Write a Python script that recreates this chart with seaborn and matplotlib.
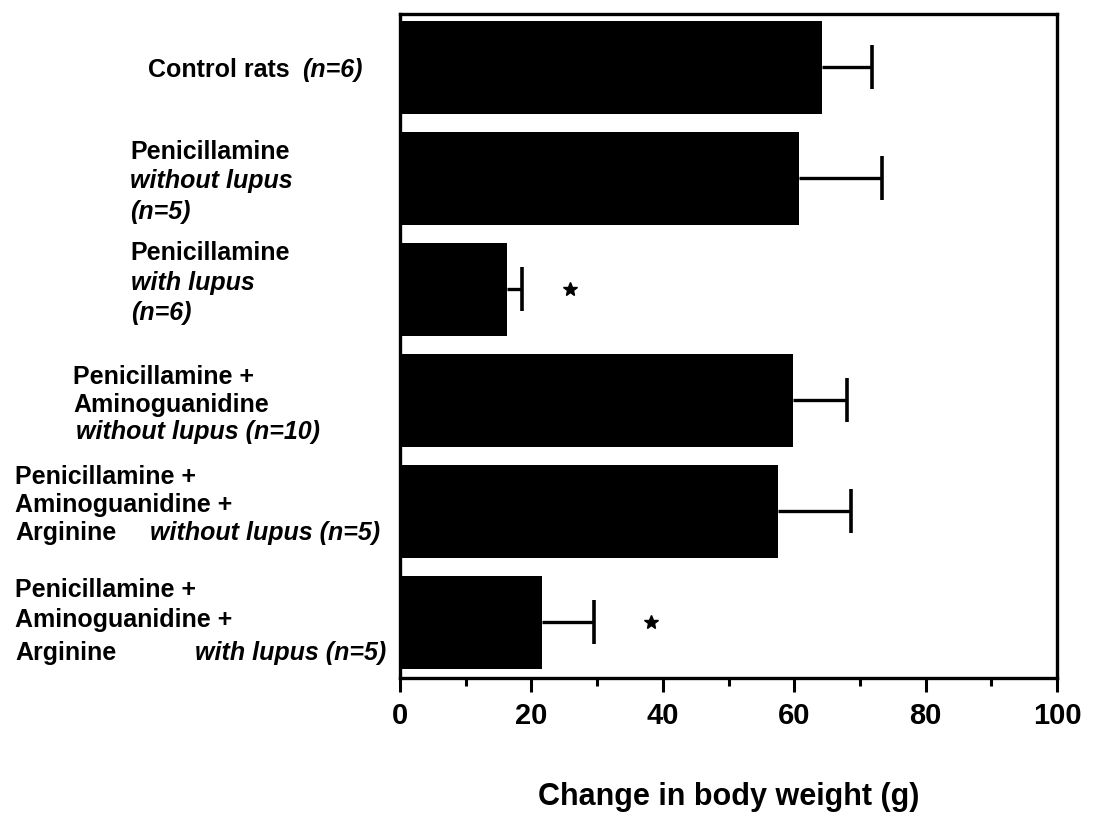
import matplotlib
matplotlib.use("Agg")
import matplotlib.pyplot as plt
from matplotlib.ticker import MultipleLocator
import seaborn as sns
import numpy as np
import pandas as pd

# ---------------- data ----------------
groups = ["Control", "Pen w/o lupus", "Pen with lupus",
          "Pen+AG w/o lupus", "Pen+AG+Arg w/o lupus", "Pen+AG+Arg with lupus"]
weight_change = [64.3, 60.7, 16.3, 59.8, 57.6, 21.6]
sem = [7.6, 12.7, 2.3, 8.3, 11.0, 7.9]
star_groups = ["Pen with lupus", "Pen+AG+Arg with lupus"]
star_x = [25.9, 38.2]
x_ticks = [0, 20, 40, 60, 80, 100]
x_label = "Change in body weight (g)"

# label text pieces: (text, italic)
label_pieces = [
    [("Control rats", False), ("(n=6)", True)],
    [("Penicillamine", False), ("without lupus", True), ("(n=5)", True)],
    [("Penicillamine", False), ("with lupus", True), ("(n=6)", True)],
    [("Penicillamine +", False), ("Aminoguanidine", False), ("without lupus (n=10)", True)],
    [("Penicillamine +", False), ("Aminoguanidine +", False), ("Arginine", False),
     ("without lupus (n=5)", True)],
    [("Penicillamine +", False), ("Aminoguanidine +", False), ("Arginine", False),
     ("with lupus (n=5)", True)],
]
# pixel anchors (left x, centre y) for each piece, same order as above
piece_pos = [
    [(148, 70), (302, 70)],
    [(130, 152), (130, 181), (130, 212)],
    [(130, 253), (131, 283), (131, 313)],
    [(73, 377), (73, 405), (76, 432)],
    [(15, 477), (15, 505), (15, 533), (150, 533)],
    [(15, 590), (15, 620), (15, 653), (195, 653)],
]

# ---------------- figure ----------------
W, H = 1098, 817
sns.set_theme(style="white")
plt.rcParams['font.family'] = ['Liberation Sans', 'DejaVu Sans']

fig = plt.figure(figsize=(W / 100, H / 100), dpi=100)
ax = fig.add_axes([400 / W, 1 - 678 / H, (1057 - 400) / W, (678 - 14) / H])

df = pd.DataFrame({"group": groups, "change": weight_change})
sns.barplot(data=df, x="change", y="group", orient="h", color="black",
            saturation=1, width=0.836, errorbar=None, linewidth=0,
            edgecolor='black', ax=ax)

ypos = np.arange(len(groups))
upper = np.array(weight_change) + np.array(sem)
ax.hlines(ypos, weight_change, upper, colors='black', linewidth=2.4, zorder=3)
ax.plot(upper, ypos, ls='none', marker='|', ms=31, mew=2.6, color='black', zorder=3)

star_y = [groups.index(g) for g in star_groups]
ax.plot(star_x, star_y, ls='none', marker='*', ms=10, color='black')

ax.set_xlim(0, 99)
ax.set_ylim(5.5, -0.48)

for s in ax.spines.values():
    s.set_visible(True)
    s.set_color('black')
    s.set_linewidth(2.4)

ax.set_xticks(x_ticks)
ax.xaxis.set_minor_locator(MultipleLocator(10))
ax.tick_params(axis='x', which='major', direction='out', length=10, width=2.2,
               labelsize=21, pad=7, bottom=True, colors='black')
ax.tick_params(axis='x', which='minor', direction='out', length=6, width=2.2,
               bottom=True, colors='black')
for lbl in ax.get_xticklabels():
    lbl.set_fontweight('bold')
    lbl.set_clip_on(False)

ax.set_yticks([])
ax.set_ylabel('')
ax.set_xlabel(x_label, fontsize=22, fontweight='bold', labelpad=38, color='black')

for pieces, poss in zip(label_pieces, piece_pos):
    for (txt, it), (px, py) in zip(pieces, poss):
        fig.text(px / W, 1 - py / H, txt, ha='left', va='center', fontsize=18,
                 fontweight='bold', fontstyle='italic' if it else 'normal',
                 color='black')

fig.savefig("out.png", dpi=100, facecolor='white')
